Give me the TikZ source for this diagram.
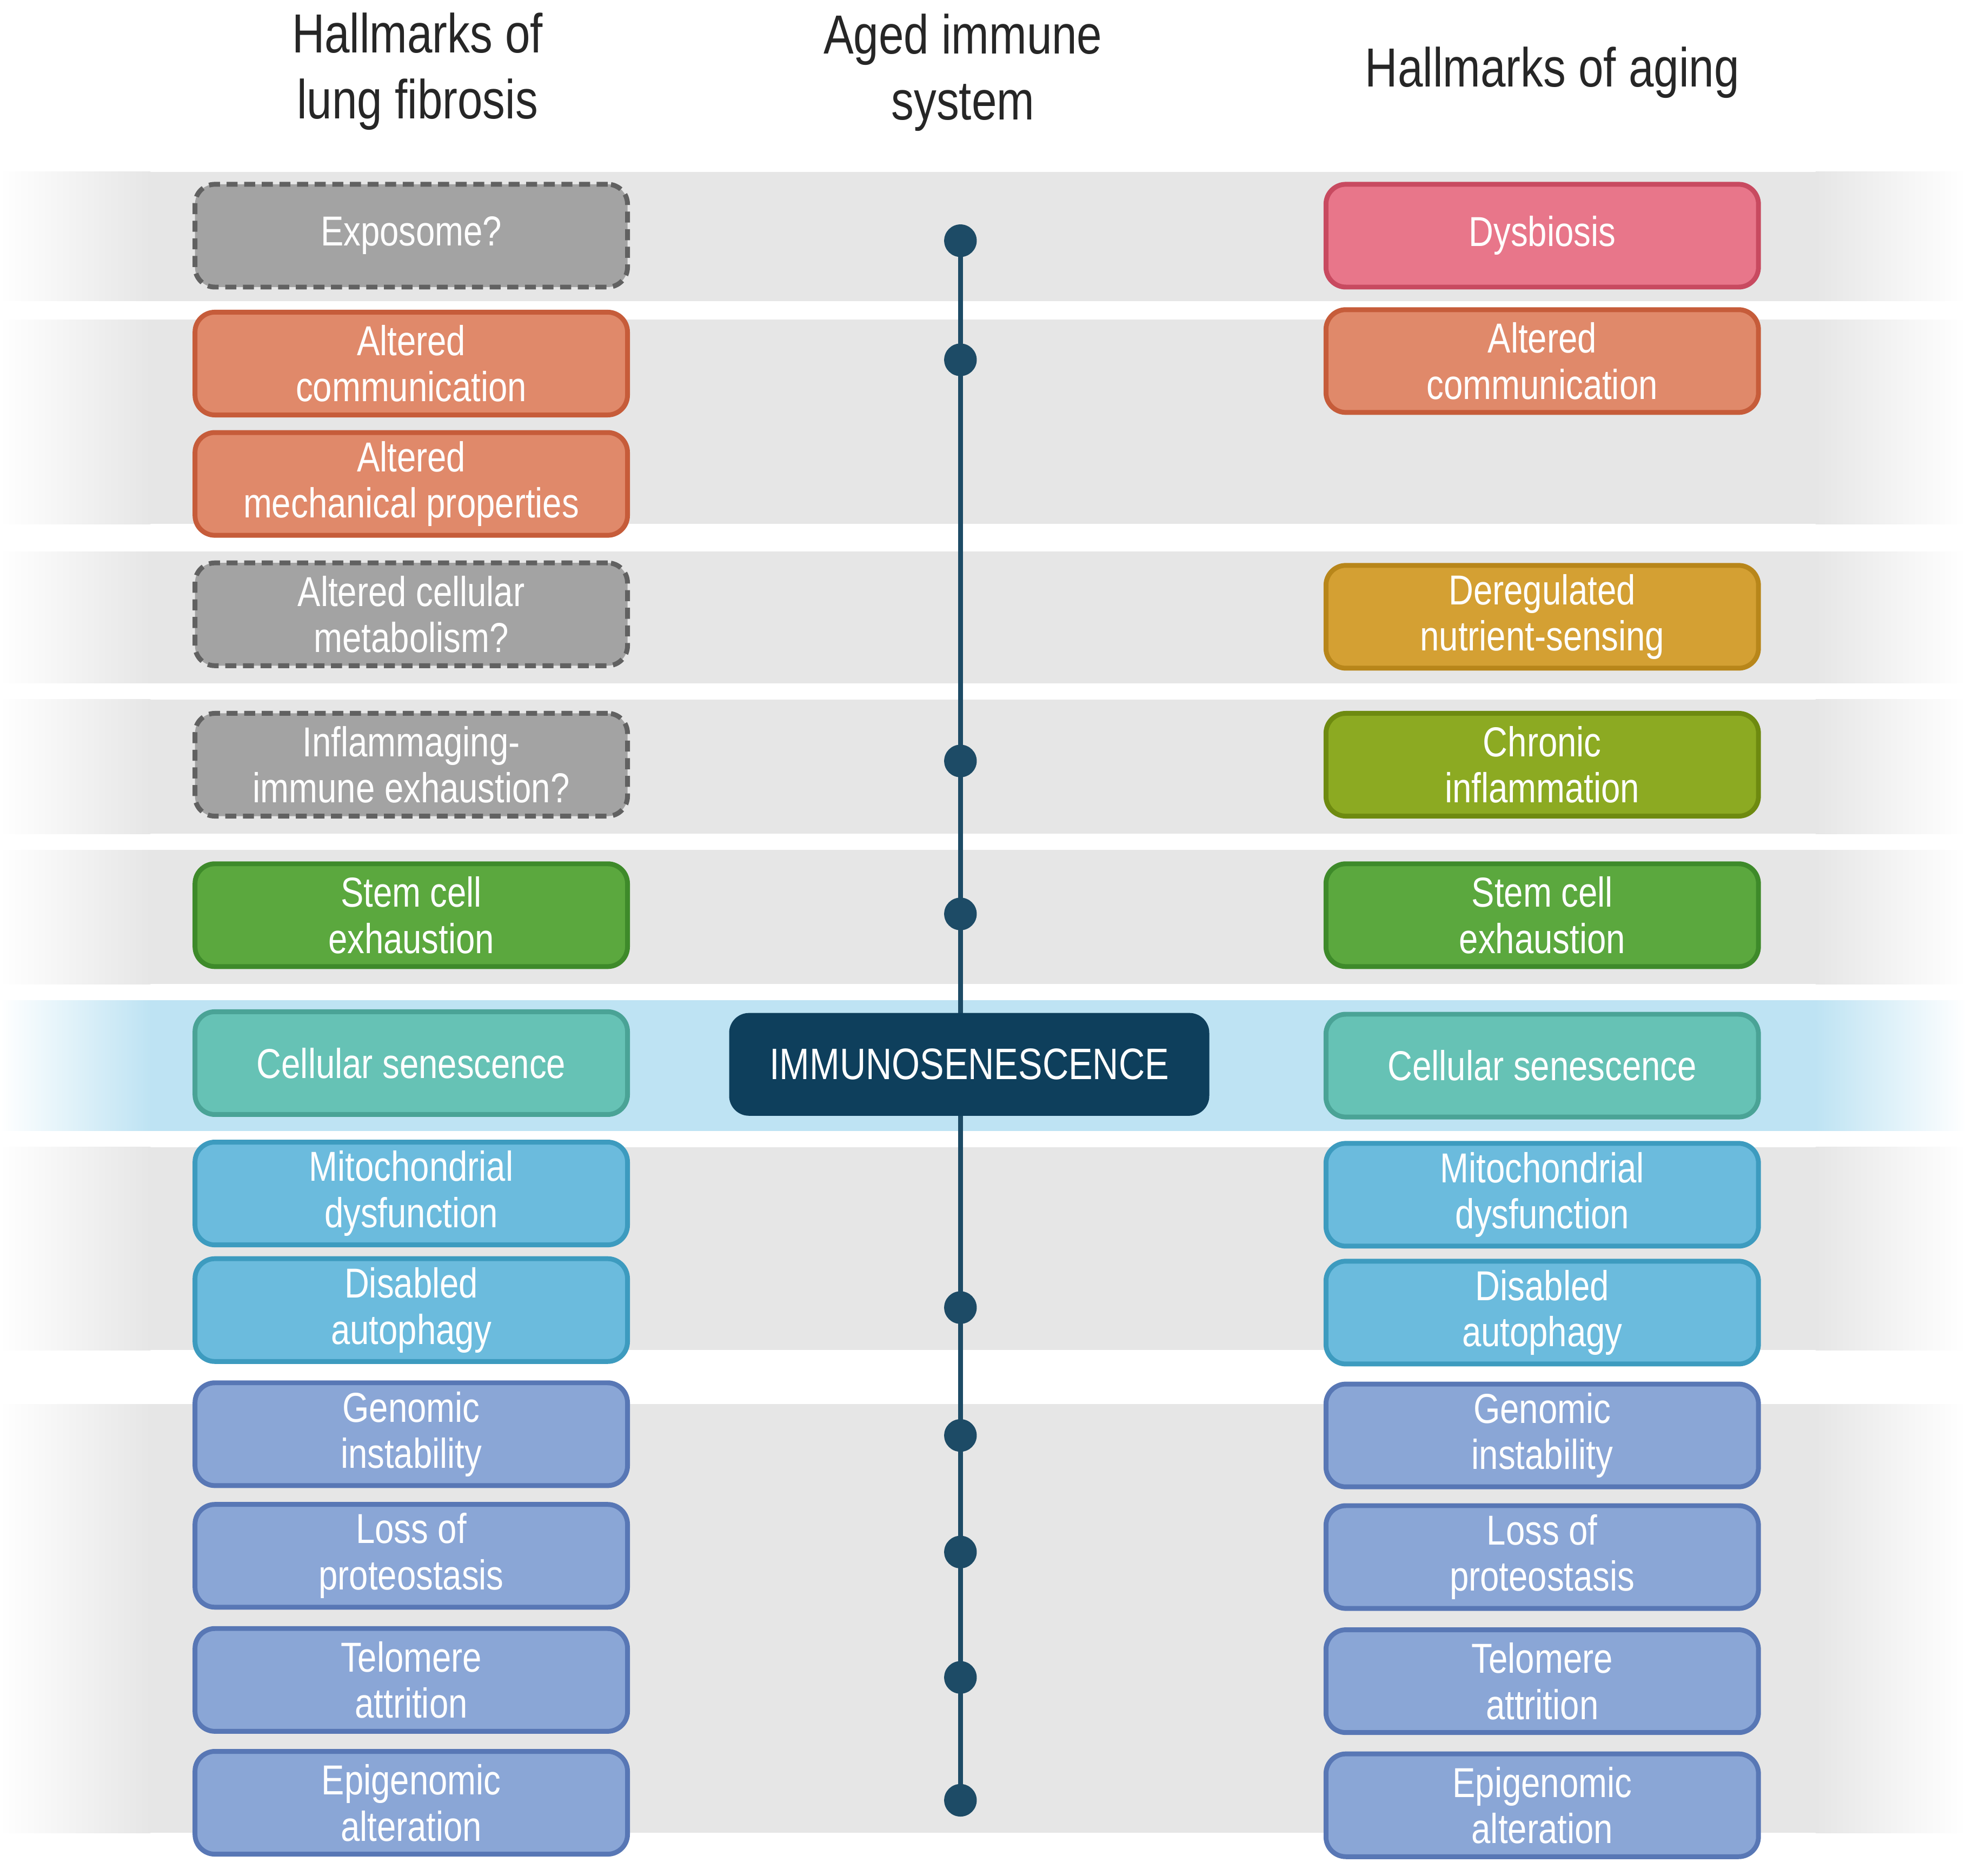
\documentclass[tikz,border=0pt]{standalone}
\usepackage{fontspec}
\setmainfont{Liberation Sans}[FakeStretch=0.82]
\usetikzlibrary{backgrounds}
\definecolor{bandg}{HTML}{E6E6E6}
\definecolor{bandb}{HTML}{BEE3F3}
\definecolor{line}{HTML}{1D4B66}
\tikzset{
 x=0.02cm,y=-0.02cm,
 hb/.style={rounded corners=9pt,minimum width=6.9cm,minimum height=1.64cm,line width=2.2pt,text=white,align=center,font=\fontsize{19}{21}\selectfont,inner sep=0pt},
 gr/.style={hb,fill=black!36,draw=black!62,dashed,dash pattern=on 5pt off 3pt},
 orr/.style={hb,fill={rgb,255:red,224;green,137;blue,106},draw={rgb,255:red,198;green,92;blue,58}},
 pk/.style={hb,fill={rgb,255:red,232;green,118;blue,138},draw={rgb,255:red,200;green,74;blue,96}},
 gd/.style={hb,fill={rgb,255:red,212;green,160;blue,51},draw={rgb,255:red,184;green,134;blue,26}},
 ol/.style={hb,fill={rgb,255:red,140;green,170;blue,34},draw={rgb,255:red,110;green,138;blue,16}},
 gn/.style={hb,fill={rgb,255:red,91;green,168;blue,62},draw={rgb,255:red,62;green,138;blue,42}},
 tl/.style={hb,fill={rgb,255:red,102;green,194;blue,181},draw={rgb,255:red,74;green,163;blue,150}},
 lb/.style={hb,fill={rgb,255:red,107;green,187;blue,221},draw={rgb,255:red,61;green,155;blue,191}},
 pw/.style={hb,fill={rgb,255:red,138;green,166;blue,214},draw={rgb,255:red,88;green,119;blue,181}},
 dot/.style={circle,fill=line,minimum size=0.52cm,inner sep=0pt},
 hd/.style={align=center,font=\fontsize{25}{30}\selectfont,text=black!85},
}
\newcommand{\band}[3]{%
 \fill[#3] (120,#1) rectangle (1448,#2);
 \shade[left color=white,right color=#3] (0,#1) rectangle (120,#2);
 \shade[left color=#3,right color=white] (1448,#1) rectangle (1568,#2);}
\begin{document}
\begin{tikzpicture}
\useasboundingbox (0,0) rectangle (1568,1496);
\band{137}{240}{bandg}
\band{255}{418}{bandg}
\band{440}{545}{bandg}
\band{558}{665}{bandg}
\band{678}{785}{bandg}
\band{798}{902}{bandb}
\band{915}{1077}{bandg}
\band{1120}{1462}{bandg}
\node[hd] (h1) at (333,57) {Hallmarks of\\lung fibrosis};
\node[hd] (h2) at (768,58) {Aged immune\\system};
\node[hd] (h3) at (1238,58) {Hallmarks of aging};
% center
\coordinate (top) at (766,192);
\coordinate (bot) at (766,1436);
\draw[line,line width=2.2pt] (top) -- (bot);
\foreach \y/\n in {192/d1,287/d2,607/d3,729/d4,1043/d5,1145/d6,1238/d7,1338/d8,1436/d9}
 \node[dot] (\n) at (766,\y) {};
\node[rounded corners=9pt,fill={rgb,255:red,14;green,63;blue,92},minimum width=7.66cm,minimum height=1.64cm,text=white,font=\fontsize{20}{22}\selectfont] (imm) at (773,849) {IMMUNOSENESCENCE};
% left
\node[gr] (l1) at (328,188) {Exposome?};
\node[orr] (l2) at (328,290) {Altered\\communication};
\node[orr] (l3) at (328,386) {Altered\\mechanical properties};
\node[gr] (l4) at (328,490) {Altered cellular\\metabolism?};
\node[gr] (l5) at (328,610) {Inflammaging-\\immune exhaustion?};
\node[gn] (l6) at (328,730) {Stem cell\\exhaustion};
\node[tl] (l7) at (328,848) {Cellular senescence};
\node[lb] (l8) at (328,952) {Mitochondrial\\dysfunction};
\node[lb] (l9) at (328,1045) {Disabled\\autophagy};
\node[pw] (l10) at (328,1144) {Genomic\\instability};
\node[pw] (l11) at (328,1241) {Loss of\\proteostasis};
\node[pw] (l12) at (328,1340) {Telomere\\attrition};
\node[pw] (l13) at (328,1438) {Epigenomic\\alteration};
% right
\node[pk] (r1) at (1230,188) {Dysbiosis};
\node[orr] (r2) at (1230,288) {Altered\\communication};
\node[gd] (r3) at (1230,492) {Deregulated\\nutrient-sensing};
\node[ol] (r4) at (1230,610) {Chronic\\inflammation};
\node[gn] (r5) at (1230,730) {Stem cell\\exhaustion};
\node[tl] (r6) at (1230,850) {Cellular senescence};
\node[lb] (r7) at (1230,953) {Mitochondrial\\dysfunction};
\node[lb] (r8) at (1230,1047) {Disabled\\autophagy};
\node[pw] (r9) at (1230,1145) {Genomic\\instability};
\node[pw] (r10) at (1230,1242) {Loss of\\proteostasis};
\node[pw] (r11) at (1230,1341) {Telomere\\attrition};
\node[pw] (r12) at (1230,1440) {Epigenomic\\alteration};
\end{tikzpicture}
\end{document}
